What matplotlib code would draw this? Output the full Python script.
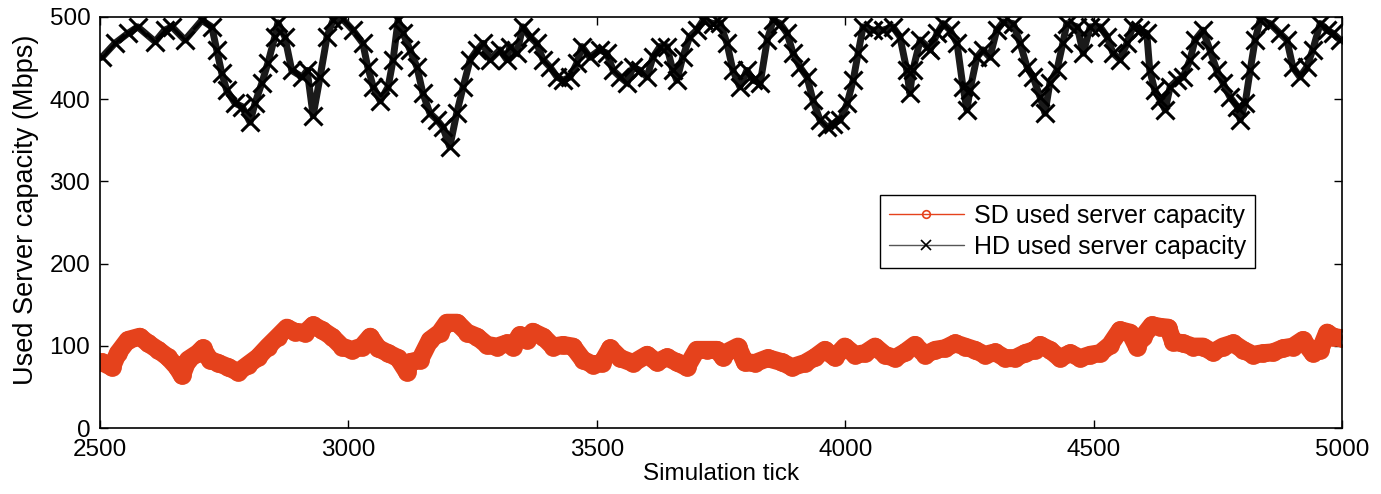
import matplotlib
matplotlib.use("Agg")
import matplotlib.pyplot as plt

# HD used server capacity (tick, Mbps)
hd_tick = [2504, 2530, 2556, 2576, 2611, 2630, 2645, 2671, 2705, 2725, 2735, 2745, 2755,
           2772, 2786, 2802, 2812, 2826, 2838, 2852, 2858, 2872, 2886, 2907, 2917, 2929,
           2943, 2957, 2969, 2989, 3009, 3029, 3039, 3050, 3064, 3080, 3090, 3100, 3110,
           3124, 3138, 3150, 3164, 3178, 3190, 3204, 3218, 3231, 3245, 3259, 3271, 3285,
           3305, 3319, 3325, 3339, 3351, 3365, 3379, 3392, 3406, 3420, 3432, 3446, 3460,
           3470, 3486, 3506, 3520, 3533, 3547, 3561, 3573, 3587, 3601, 3613, 3627, 3641,
           3653, 3661, 3673, 3687, 3701, 3714, 3734, 3748, 3762, 3774, 3788, 3802, 3815,
           3829, 3843, 3855, 3869, 3883, 3895, 3909, 3923, 3935, 3949, 3963, 3976, 3990,
           4004, 4016, 4026, 4036, 4056, 4076, 4096, 4110, 4124, 4130, 4136, 4151, 4165,
           4171, 4185, 4197, 4211, 4225, 4237, 4245, 4251, 4265, 4277, 4291, 4305, 4318,
           4338, 4352, 4366, 4378, 4392, 4402, 4412, 4426, 4438, 4446, 4467, 4479, 4493,
           4513, 4527, 4539, 4553, 4567, 4579, 4594, 4607, 4613, 4623, 4634, 4644, 4654,
           4668, 4680, 4694, 4704, 4720, 4734, 4748, 4760, 4774, 4789, 4795, 4805, 4815,
           4825, 4835, 4855, 4875, 4889, 4901, 4915, 4929, 4941, 4956, 4970, 4982, 4996]
hd_mbps = [451, 468, 480, 488, 470, 484, 488, 472, 496, 488, 460, 432, 411,
           395, 391, 372, 395, 420, 444, 476, 493, 476, 435, 427, 435, 380,
           427, 476, 496, 497, 484, 468, 439, 415, 398, 415, 448, 496, 480,
           460, 439, 407, 383, 375, 366, 342, 383, 415, 448, 460, 468, 448,
           460, 448, 464, 456, 488, 476, 468, 448, 439, 427, 423, 427, 444,
           464, 451, 460, 456, 435, 427, 420, 439, 435, 427, 451, 464, 464,
           435, 423, 451, 476, 484, 496, 492, 493, 468, 435, 415, 435, 423,
           420, 472, 496, 492, 480, 456, 439, 427, 399, 375, 366, 370, 375,
           395, 423, 456, 488, 484, 484, 488, 476, 435, 407, 435, 472, 464,
           460, 480, 492, 484, 468, 415, 387, 411, 451, 460, 451, 484, 494,
           492, 468, 439, 427, 403, 383, 420, 435, 468, 492, 488, 456, 488,
           488, 476, 456, 448, 468, 488, 484, 480, 435, 411, 399, 387, 415,
           423, 427, 448, 472, 484, 460, 435, 420, 403, 391, 375, 395, 435,
           472, 496, 492, 480, 472, 439, 427, 439, 460, 492, 484, 480, 472]

# SD used server capacity (tick, Mbps)
sd_tick = [2504, 2524, 2536, 2556, 2580, 2597, 2617, 2637, 2655, 2665, 2677, 2697, 2707,
           2721, 2738, 2758, 2778, 2798, 2818, 2838, 2858, 2876, 2892, 2913, 2929, 2947,
           2967, 2987, 3007, 3027, 3044, 3060, 3080, 3100, 3118, 3124, 3144, 3164, 3184,
           3198, 3219, 3239, 3259, 3279, 3299, 3319, 3331, 3345, 3359, 3371, 3392, 3412,
           3432, 3452, 3472, 3492, 3510, 3527, 3547, 3573, 3601, 3621, 3641, 3661, 3681,
           3701, 3722, 3742, 3754, 3758, 3784, 3798, 3818, 3844, 3873, 3893, 3919, 3939,
           3959, 3979, 3999, 4020, 4040, 4060, 4080, 4100, 4120, 4140, 4161, 4181, 4201,
           4221, 4241, 4261, 4281, 4302, 4322, 4342, 4362, 4382, 4392, 4412, 4432, 4453,
           4473, 4493, 4513, 4533, 4553, 4573, 4587, 4599, 4617, 4634, 4650, 4660, 4680,
           4700, 4720, 4740, 4760, 4781, 4801, 4821, 4841, 4861, 4881, 4901, 4921, 4941,
           4956, 4970, 4982, 5000]
sd_mbps = [80, 74, 91, 107, 111, 103, 95, 86, 74, 64, 83, 91, 97,
           83, 79, 74, 68, 77, 86, 99, 111, 122, 117, 116, 125, 119,
           111, 99, 95, 99, 111, 97, 91, 85, 68, 80, 83, 107, 116,
           128, 128, 116, 111, 101, 99, 103, 99, 113, 107, 117, 111, 99,
           101, 99, 83, 77, 79, 97, 85, 79, 89, 80, 86, 80, 74,
           95, 95, 95, 86, 91, 99, 80, 79, 85, 80, 74, 79, 86,
           95, 86, 99, 89, 91, 99, 89, 85, 92, 101, 89, 95, 97,
           103, 99, 95, 89, 92, 85, 85, 91, 95, 101, 95, 85, 91,
           85, 89, 91, 101, 119, 116, 99, 111, 125, 123, 122, 105, 103,
           99, 99, 92, 99, 103, 95, 89, 91, 92, 97, 99, 107, 91,
           95, 116, 111, 109]

plt.rcParams['font.family'] = ['Liberation Sans', 'DejaVu Sans']

dpi = 100
fig = plt.figure(figsize=(1381 / dpi, 494 / dpi), dpi=dpi)
ax = fig.add_axes([0.0724, 0.1336, 0.8994, 0.832])

# thick lines + markers stand in for the dense marker band of the original
ax.plot(sd_tick, sd_mbps, color='#e5421c', lw=13, marker='o', markersize=11,
        markerfacecolor='none', markeredgecolor='#e5421c', markeredgewidth=2.5,
        solid_capstyle='round', solid_joinstyle='round',
        label='SD used server capacity')
ax.plot(hd_tick, hd_mbps, color='#1a1a1a', lw=5, marker='x', markersize=13,
        markeredgecolor='black', markeredgewidth=2.2,
        solid_joinstyle='round', solid_capstyle='round',
        label='HD used server capacity')

ax.set_xlim(2500, 5000)
ax.set_ylim(0, 500)
ax.set_xticks(range(2500, 5001, 500))
ax.set_yticks(range(0, 501, 100))
ax.tick_params(direction='in', top=True, right=True, labelsize=17.5, length=6, width=1)
ax.tick_params(axis='x', pad=8)
ax.tick_params(axis='y', pad=7)
for s in ax.spines.values():
    s.set_linewidth(1.2)

ax.set_xlabel('Simulation tick', fontsize=17.5, labelpad=1)
ax.set_ylabel('Used Server capacity (Mbps)', fontsize=19.5)
ax.yaxis.set_label_coords(-0.049, 0.53)

leg = ax.legend(loc='upper left', bbox_to_anchor=(0.628, 0.567), borderaxespad=0,
                fontsize=18, fancybox=False, edgecolor='black', framealpha=1,
                handlelength=3.0, handletextpad=0.4, borderpad=0.35,
                labelspacing=0.3, markerscale=0.5)
leg.get_frame().set_linewidth(1.0)
lh = leg.get_lines()
lh[0].set_linewidth(1.0)
lh[0].set_color('#e5421c')
lh[1].set_linewidth(1.0)
lh[1].set_color('#555555')
for h in lh:
    h.set_markeredgewidth(1.2)

fig.savefig('out.png', dpi=dpi)
